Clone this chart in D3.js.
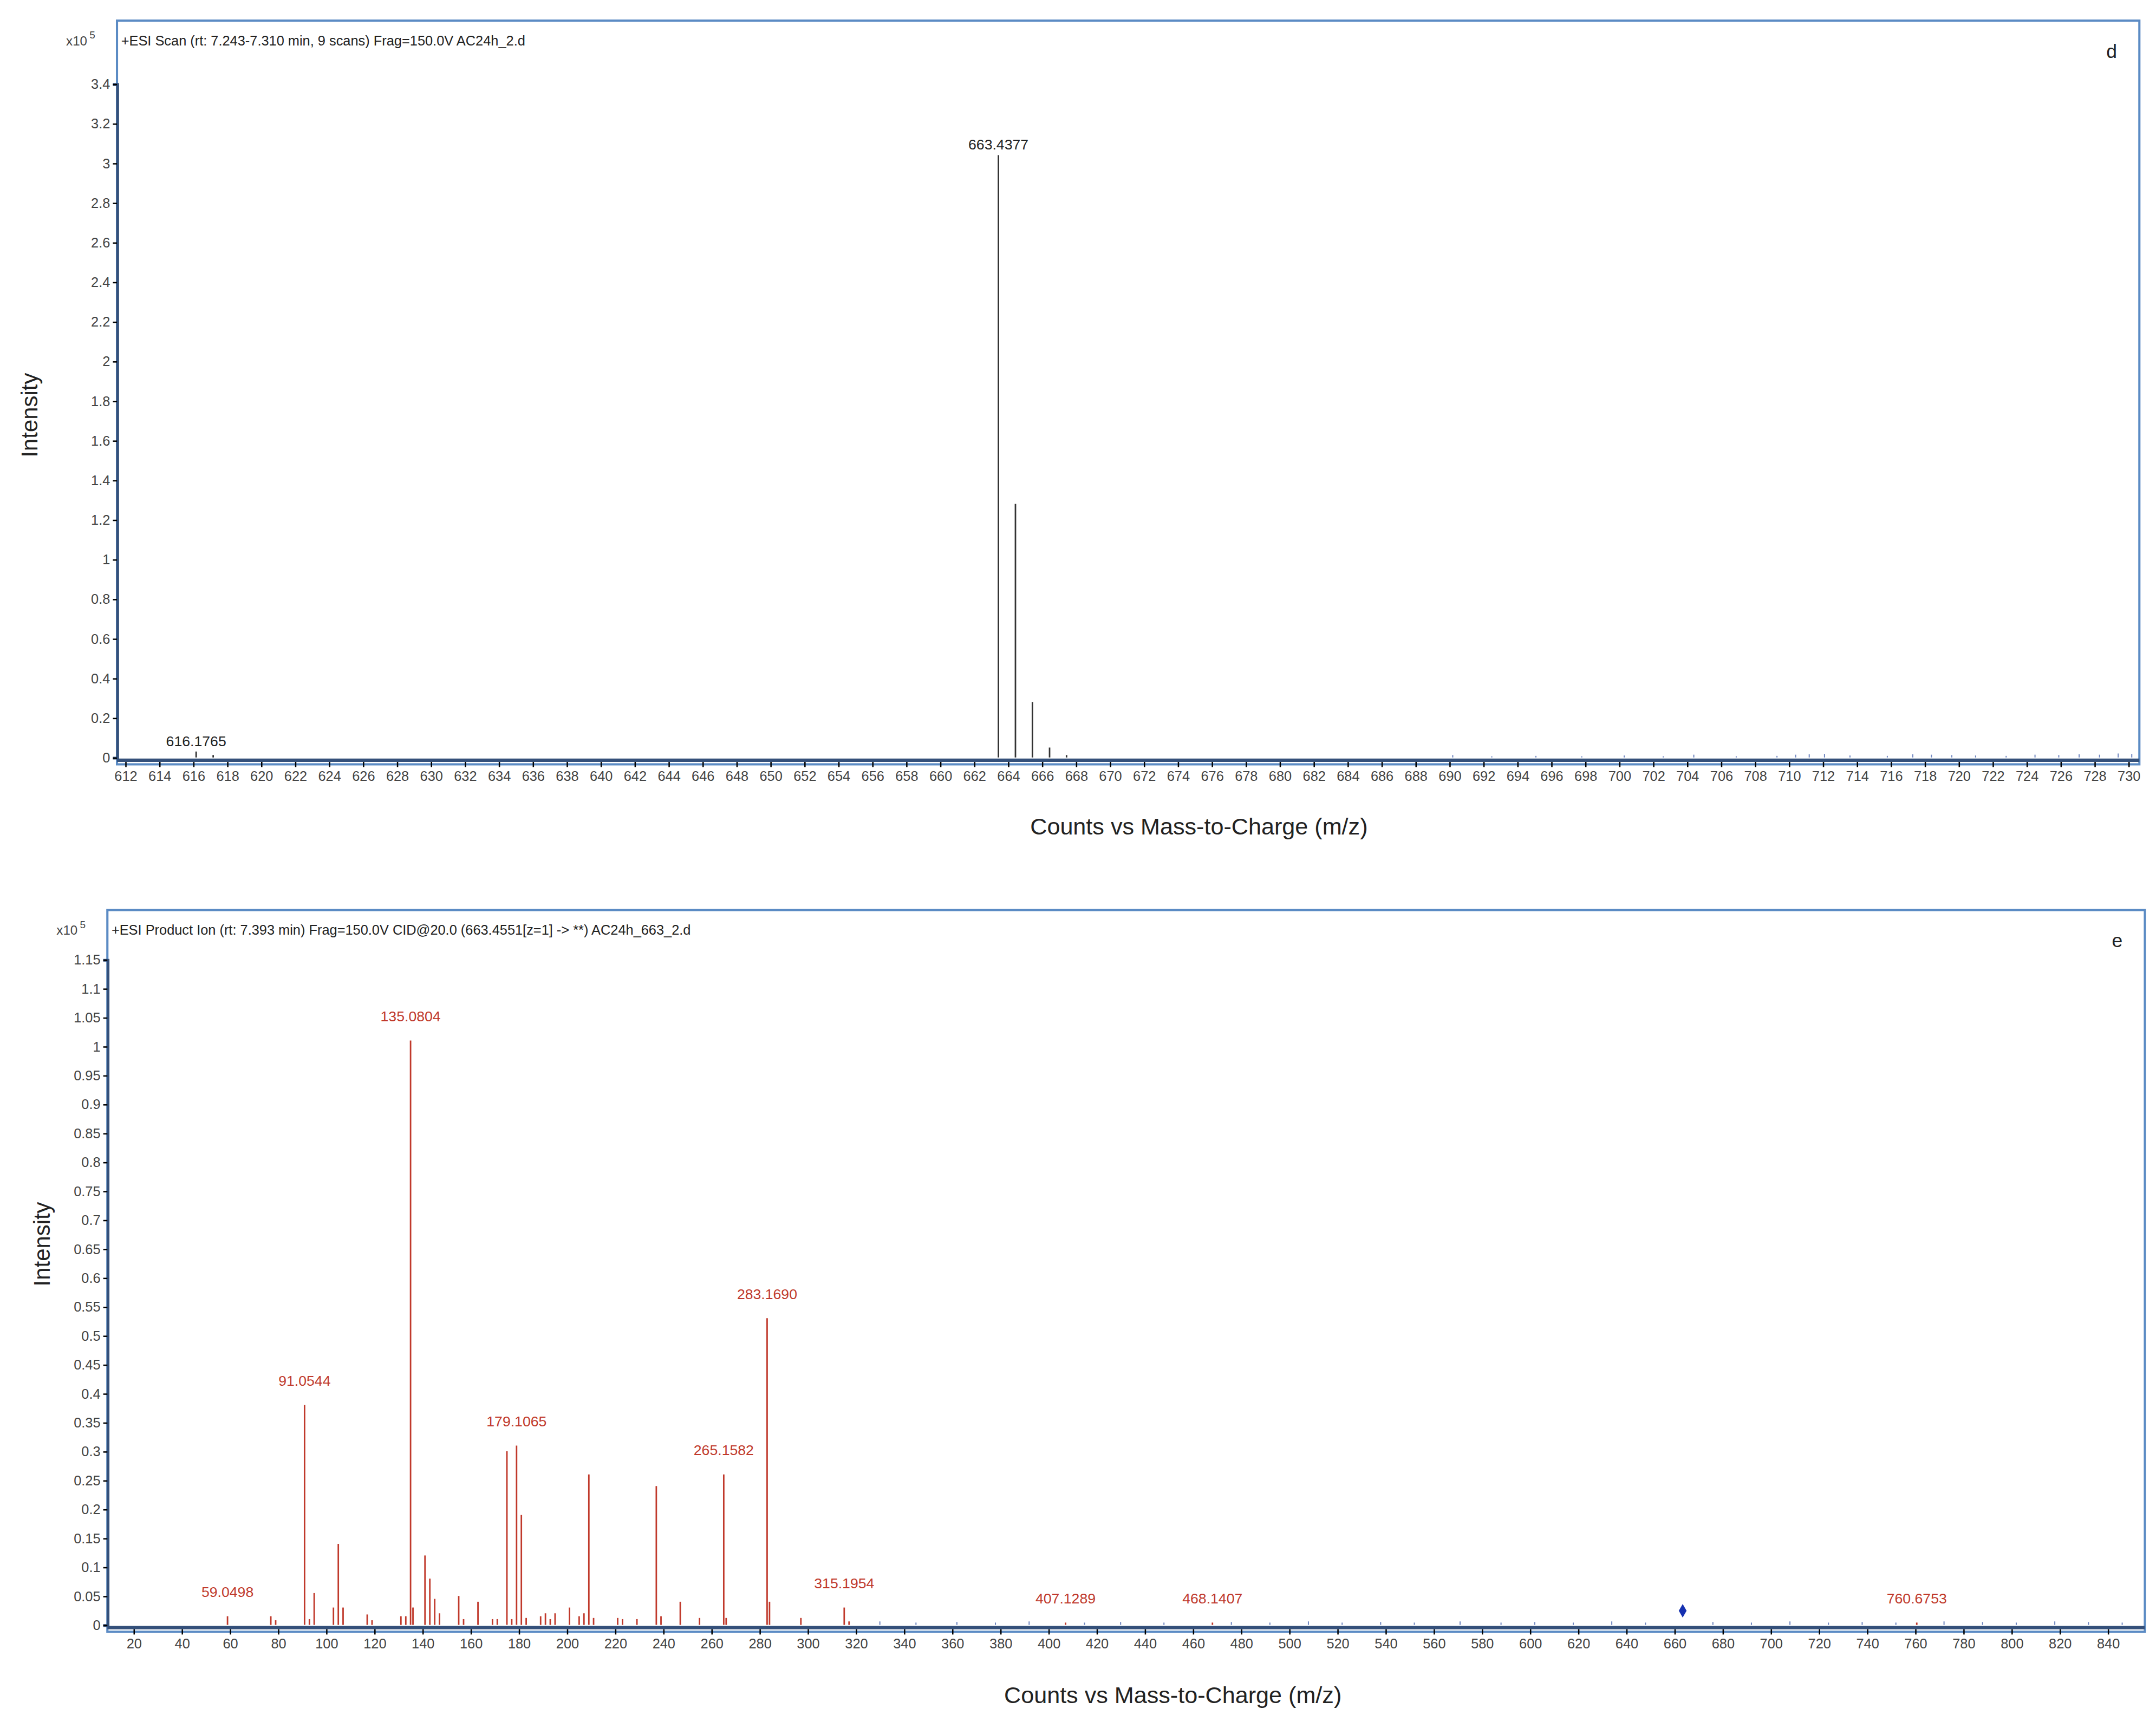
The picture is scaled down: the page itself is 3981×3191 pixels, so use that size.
<!DOCTYPE html>
<html><head><meta charset="utf-8">
<script src="https://cdn.jsdelivr.net/npm/d3@7"></script>
<style>body{margin:0;background:#fff}text{font-family:"Liberation Sans",Arial,sans-serif}</style>
</head><body>
<script>
// ---- Panel d data (x10^5 counts) ----
const dMz   = [616.1765, 617.18, 663.4377, 664.44, 665.44, 666.45, 667.45];
const dInt  = [0.03, 0.012, 3.04, 1.28, 0.28, 0.05, 0.012];
const dNoiseMz  = [690.2,692.5,695.1,697.8,700.3,702.6,704.4,706.9,709.3,710.4,711.2,712.1,713.6,715.8,717.3,718.4,719.6,721.0,722.8,724.5,725.9,727.1,728.3,729.4,730.2];
const dNoiseInt = [0.012,0.006,0.008,0.006,0.01,0.006,0.014,0.006,0.008,0.014,0.016,0.018,0.01,0.008,0.016,0.014,0.012,0.01,0.008,0.014,0.012,0.016,0.014,0.02,0.018];
const dLabels = [{mz:616.1765,v:0.03,t:"616.1765"},{mz:663.4377,v:3.04,t:"663.4377"}];
const dXTicks = d3.range(612, 731, 2);
const dYTicks = [0,0.2,0.4,0.6,0.8,1,1.2,1.4,1.6,1.8,2,2.2,2.4,2.6,2.8,3,3.2,3.4];

// ---- Panel e data ----
const eMz  = [59.0498,77.04,79.05,91.0544,93.07,95.05,103.05,105.07,107.05,117.07,119.08,131.08,133.1,135.0804,136.08,141.07,143.08,145.1,147.1,155.08,157.1,163.08,169.1,171.1,175.1,177.1,179.1065,181.1,183.1,189.1,191.1,193.1,195.1,201.1,205.1,207.1,209.13,211.1,221.1,223.1,229.1,237.15,239.1,247.1,255.1,265.1582,266.16,283.169,284.17,297.2,315.1954,317.2,407.1289,468.1407,760.6753];
const eInt = [0.015,0.015,0.008,0.38,0.01,0.055,0.03,0.14,0.03,0.018,0.008,0.015,0.015,1.01,0.03,0.12,0.08,0.045,0.02,0.05,0.01,0.04,0.01,0.01,0.30,0.01,0.31,0.19,0.012,0.015,0.02,0.01,0.02,0.03,0.015,0.02,0.26,0.012,0.012,0.01,0.01,0.24,0.015,0.04,0.012,0.26,0.012,0.53,0.04,0.012,0.03,0.006,0.004,0.004,0.004];
const eNoiseMz  = [330,345,362,378,392,415,430,448,476,492,508,522,538,552,571,588,602,618,634,648,676,692,708,724,738,752,772,788,802,818,832,846];
const eNoiseInt = [0.006,0.004,0.005,0.004,0.006,0.004,0.005,0.004,0.005,0.004,0.006,0.004,0.005,0.004,0.006,0.004,0.005,0.004,0.006,0.004,0.005,0.004,0.006,0.004,0.005,0.004,0.006,0.005,0.004,0.006,0.005,0.004];
const eLabels = [
 {mz:59.0498,v:0.015,t:"59.0498"},{mz:91.0544,v:0.38,t:"91.0544"},{mz:135.0804,v:1.01,t:"135.0804"},
 {mz:179.1065,v:0.31,t:"179.1065"},{mz:265.1582,v:0.26,t:"265.1582"},{mz:283.169,v:0.53,t:"283.1690"},
 {mz:315.1954,v:0.03,t:"315.1954"},{mz:407.1289,v:0.004,t:"407.1289"},{mz:468.1407,v:0.004,t:"468.1407"},{mz:760.6753,v:0.004,t:"760.6753"}];
const eXTicks = d3.range(20, 841, 20);
const eYTicks = d3.range(0, 1.1501, 0.05).map(v=>+v.toFixed(2));
const precursor = {mz:663.4551, v:0.015};

const svg = d3.select("body").append("svg").attr("width",3981).attr("height",3191).attr("viewBox","0 0 1568 1257");
const fmt = v => (+v.toFixed(2)).toString();

function panel(o){
  const g = svg.append("g");
  const x = d3.scaleLinear().domain(o.xd).range([o.x0,o.x1]);
  const y = d3.scaleLinear().domain(o.yd).range([o.y0,o.y1]);
  g.append("rect").attr("x",o.fl).attr("y",o.ft).attr("width",o.fr-o.fl).attr("height",o.fb-o.ft)
   .attr("fill","#fff").attr("stroke","#5b8bc4").attr("stroke-width",1.6);
  const ya = g.append("g").attr("transform",`translate(${o.fl},0)`).call(d3.axisLeft(y).tickValues(o.yt).tickFormat(fmt).tickSize(3).tickPadding(2));
  ya.select(".domain").attr("stroke","#34507a").attr("stroke-width",2);
  ya.selectAll("text").attr("font-size",10).attr("fill","#444");
  const xa = g.append("g").attr("transform",`translate(0,${o.y0+3})`).call(d3.axisBottom(x).tickValues(o.xt).tickFormat(d3.format("d")).tickSize(4).tickPadding(3));
  xa.select(".domain").remove();
  xa.selectAll("text").attr("font-size",10).attr("fill","#444");
  g.append("line").attr("x1",o.fl).attr("x2",o.fr).attr("y1",o.y0+2).attr("y2",o.y0+2).attr("stroke","#34507a").attr("stroke-width",2.5);
  g.selectAll(".n").data(o.nm).join("line").attr("x1",d=>x(d)).attr("x2",d=>x(d)).attr("y1",y(0))
   .attr("y2",(d,i)=>y(o.ni[i])).attr("stroke","#6f86c0").attr("stroke-width",0.8);
  g.selectAll(".p").data(o.pm).join("line").attr("x1",d=>x(d)).attr("x2",d=>x(d)).attr("y1",y(0))
   .attr("y2",(d,i)=>y(o.pi[i])).attr("stroke",o.col).attr("stroke-width",1.1);
  g.selectAll(".l").data(o.lab).join("text").attr("x",d=>x(d.mz)).attr("y",d=>y(d.v)-o.loff)
   .attr("text-anchor","middle").attr("font-size",10.5).attr("fill",o.lcol).text(d=>d.t);
  g.append("text").attr("x",o.fl-37).attr("y",o.ft+18).attr("font-size",9.5).attr("fill","#444").text("x10");
  g.append("text").attr("x",o.fl-20).attr("y",o.ft+13).attr("font-size",7.5).attr("fill","#444").text("5");
  g.append("text").attr("x",o.fl+3).attr("y",o.ft+18).attr("font-size",o.hs).attr("fill","#222").text(o.head);
  g.append("text").attr("x",o.fr-24).attr("y",o.ft+27).attr("font-size",14).attr("fill","#222").text(o.letter);
  g.append("text").attr("transform",`translate(${o.ylx},${o.yly}) rotate(-90)`).attr("text-anchor","middle")
   .attr("font-size",16.5).attr("fill","#222").text("Intensity");
  g.append("text").attr("x",o.xtx).attr("y",o.xty).attr("text-anchor","middle").attr("font-size",17).attr("fill","#222").text("Counts vs Mass-to-Charge (m/z)");
  return {g,x,y};
}

panel({xd:[612,730],x0:91,x1:1548,yd:[0,3.4],y0:551,y1:61,fl:85,ft:15,fr:1556,fb:556,
  xt:dXTicks,yt:dYTicks,nm:dNoiseMz,ni:dNoiseInt,pm:dMz,pi:dInt,col:"#333",lab:dLabels,lcol:"#222",loff:4,hs:10,
  head:"+ESI Scan (rt: 7.243-7.310 min, 9 scans) Frag=150.0V AC24h_2.d",letter:"d",
  ylx:27,yly:302,xtx:872,xty:607});

const pe = panel({xd:[20,840],x0:97,x1:1533,yd:[0,1.15],y0:1182,y1:698,fl:78,ft:662,fr:1560,fb:1187,
  xt:eXTicks,yt:eYTicks,nm:eNoiseMz,ni:eNoiseInt,pm:eMz,pi:eInt,col:"#c0392b",lab:eLabels,lcol:"#c0392b",loff:14,hs:10,
  head:"+ESI Product Ion (rt: 7.393 min) Frag=150.0V CID@20.0 (663.4551[z=1] -> **) AC24h_663_2.d",letter:"e",
  ylx:36,yly:905,xtx:853,xty:1239});
pe.g.append("path").attr("d",d3.symbol(d3.symbolDiamond,28)())
  .attr("transform",`translate(${pe.x(precursor.mz)},${pe.y(precursor.v)-4})`).attr("fill","#1530b0");
</script>
</body></html>
